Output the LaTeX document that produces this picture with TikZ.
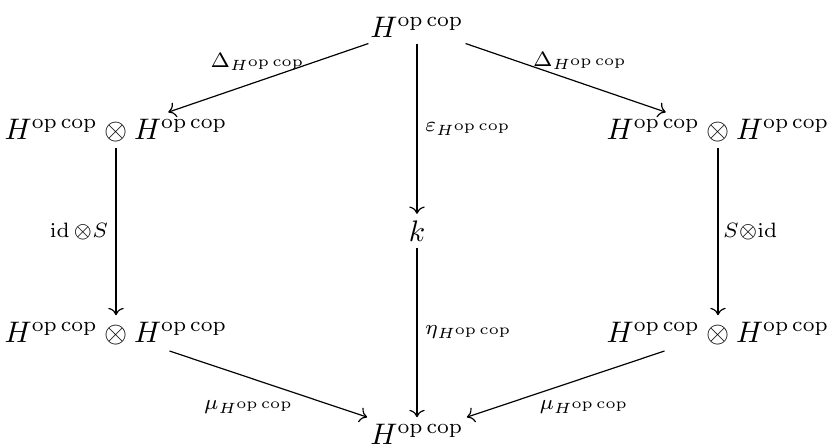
\documentclass[tikz,border=0pt]{standalone}
\usepackage{amsmath}
\usetikzlibrary{arrows.meta}
\newcommand{\Hoc}{H^{\mathrm{op}\,\mathrm{cop}}}
\begin{document}
\begin{tikzpicture}[x=0.3367pt,y=-0.3367pt,
  obj/.style={anchor=base,inner xsep=1pt,inner ysep=2pt},
  arr/.style={-{Computer Modern Rightarrow},line width=0.4pt},
  lab/.style={inner sep=0pt,font=\normalsize}]
\useasboundingbox (0,0) rectangle (828,448);
\node[obj] (t) at (417,37) {$\Hoc$};
\node[obj] (l1) at (116,139) {$\Hoc\otimes\Hoc$};
\node[obj] (r1) at (718,139) {$\Hoc\otimes\Hoc$};
\node[obj] (k) at (417,241) {$k$};
\node[obj] (l2) at (116,342) {$\Hoc\otimes\Hoc$};
\node[obj] (r2) at (718,342) {$\Hoc\otimes\Hoc$};
\node[obj] (b) at (417,444) {$\Hoc$};
\draw[arr] (t) -- node[lab,midway,shift={(-10,-16)}] (lD1) {$\scriptstyle\Delta_{\Hoc}$} (l1);
\draw[arr] (t) -- node[lab,midway,shift={(15,-17)}] (lD2) {$\scriptstyle\Delta_{\Hoc}$} (r1);
\draw[arr] (t) -- node[lab,midway,right=2.5pt] (le) {$\scriptstyle\varepsilon_{\Hoc}$} (k);
\draw[arr] (k) -- node[lab,midway,right=2.5pt] (lh) {$\scriptstyle\eta_{\Hoc}$} (b);
\draw[arr] (l1) -- node[lab,midway,left=2.5pt] (lS1) {$\scriptstyle\operatorname{id}\otimes S$} (l2);
\draw[arr] (r1) -- node[lab,midway,right=1.5pt] (lS2) {$\scriptstyle S\otimes\operatorname{id}$} (r2);
\draw[arr] (l2) -- node[lab,midway,shift={(-19,23)}] (lm1) {$\scriptstyle\mu_{\Hoc}$} (b);
\draw[arr] (r2) -- node[lab,midway,shift={(19,23)}] (lm2) {$\scriptstyle\mu_{\Hoc}$} (b);
\end{tikzpicture}
\end{document}
